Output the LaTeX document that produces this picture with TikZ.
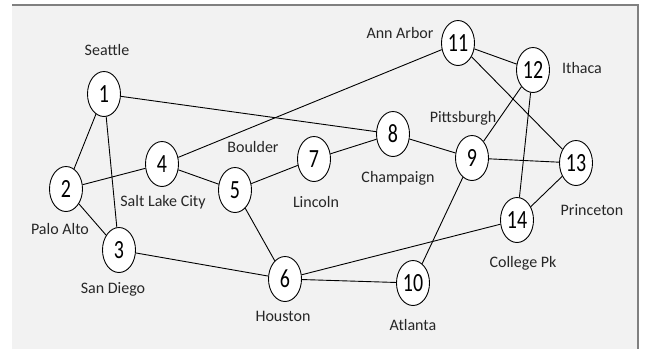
\documentclass[tikz,border=0pt]{standalone}
\usepackage{fontspec}
\setmainfont{Carlito}
\usetikzlibrary{shapes.geometric}
\definecolor{bgfill}{HTML}{F2F2F2}
\definecolor{frame}{HTML}{808080}
\tikzset{
  city/.style={ellipse,draw=black,fill=white,line width=0.9pt,minimum width=33pt,minimum height=45pt,inner sep=0pt,font=\fontsize{21}{21}\selectfont},
  lab/.style={inner sep=0pt,font=\fontsize{16}{16}\selectfont,text=black!85},
  edge/.style={line width=0.9pt,draw=black}
}
\newcommand{\num}[1]{\scalebox{0.95}[1.25]{#1}}
\begin{document}
\begin{tikzpicture}[x=1pt,y=-1pt]
\useasboundingbox (0,0) rectangle (645,349);
\fill[bgfill] (12,5) rectangle (638,349);
\draw[frame,line width=1.2pt] (12,5) -- (638,5) -- (638,349);
% nodes
\node[city] (n1) at (104,94) {\num{1}};
\node[city] (n2) at (66,189) {\num{2}};
\node[city] (n3) at (119,250) {\num{3}};
\node[city] (n4) at (162,164) {\num{4}};
\node[city] (n5) at (235,190) {\num{5}};
\node[city] (n6) at (285,279) {\num{6}};
\node[city] (n7) at (314,159) {\num{7}};
\node[city] (n8) at (393,134) {\num{8}};
\node[city] (n9) at (472,158) {\num{9}};
\node[city] (n10) at (413,283) {\num{10}};
\node[city] (n11) at (458,43) {\num{11}};
\node[city] (n12) at (533,70) {\num{12}};
\node[city] (n13) at (576,163) {\num{13}};
\node[city] (n14) at (517,220) {\num{14}};
% labels
\node[lab] (l1) at (107,50) {Seattle};
\node[lab] (l2) at (60,229) {Palo Alto};
\node[lab] (l3) at (113,289) {San Diego};
\node[lab] (l4) at (163,202) {Salt Lake City};
\node[lab] (l5) at (253,147) {Boulder};
\node[lab] (l6) at (283,316) {Houston};
\node[lab] (l7) at (316,202) {Lincoln};
\node[lab] (l8) at (398,178) {Champaign};
\node[lab] (l9) at (463,118) {Pittsburgh};
\node[lab] (l10) at (413,325) {Atlanta};
\node[lab] (l11) at (400,33) {Ann Arbor};
\node[lab] (l12) at (582,68) {Ithaca};
\node[lab] (l13) at (592,210) {Princeton};
\node[lab] (l14) at (523,263) {College Pk};
% edges
\draw[edge] (n1) -- (n2);
\draw[edge] (n1) -- (n3);
\draw[edge] (n1) -- (n8);
\draw[edge] (n2) -- (n4);
\draw[edge] (n2) -- (n3);
\draw[edge] (n4) -- (n5);
\draw[edge] (n4) -- (n11);
\draw[edge] (n5) -- (n7);
\draw[edge] (n5) -- (n6);
\draw[edge] (n7) -- (n8);
\draw[edge] (n8) -- (n9);
\draw[edge] (n3) -- (n6);
\draw[edge] (n6) -- (n10);
\draw[edge] (n6) -- (n14);
\draw[edge] (n9) -- (n10);
\draw[edge] (n9) -- (n12);
\draw[edge] (n9) -- (n13);
\draw[edge] (n11) -- (n12);
\draw[edge] (n11) -- (n13);
\draw[edge] (n12) -- (n14);
\draw[edge] (n13) -- (n14);
\end{tikzpicture}
\end{document}
